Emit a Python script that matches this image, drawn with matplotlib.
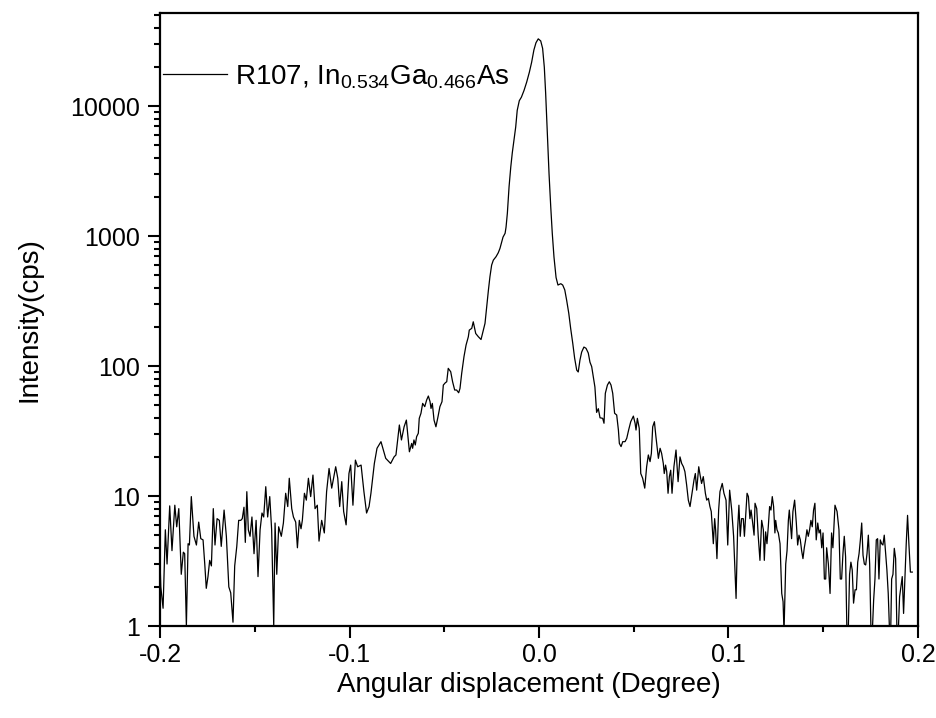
import numpy as np
import matplotlib
matplotlib.use("Agg")
import matplotlib.pyplot as plt
from matplotlib.ticker import FixedLocator, FixedFormatter, LogLocator, NullFormatter, MultipleLocator

plt.rcParams['font.family'] = ['Liberation Sans', 'DejaVu Sans']
plt.rcParams['mathtext.fontset'] = 'custom'
plt.rcParams['mathtext.rm'] = 'Liberation Sans'
plt.rcParams['mathtext.it'] = 'Liberation Sans:italic'

# Rocking curve of sample R107 (InGaAs): angle offset (degree) vs counts per second
angle = np.array([
    -0.2000, -0.1996, -0.1984, -0.1972, -0.1963, -0.1949, -0.1937, -0.1922, -0.1912, -0.1901,
    -0.1888, -0.1877, -0.1870, -0.1861, -0.1852, -0.1845, -0.1835, -0.1821, -0.1808, -0.1796,
    -0.1785, -0.1773, -0.1764, -0.1756, -0.1747, -0.1738, -0.1729, -0.1719, -0.1710, -0.1699,
    -0.1687, -0.1677, -0.1662, -0.1650, -0.1637, -0.1627, -0.1615, -0.1606, -0.1595, -0.1585,
    -0.1574, -0.1566, -0.1557, -0.1550, -0.1542, -0.1534, -0.1525, -0.1515, -0.1504, -0.1493,
    -0.1483, -0.1472, -0.1462, -0.1453, -0.1442, -0.1432, -0.1421, -0.1411, -0.1400, -0.1393,
    -0.1384, -0.1374, -0.1360, -0.1349, -0.1337, -0.1326,
    -0.1318, -0.1305, -0.1296, -0.1284, -0.1275, -0.1265, -0.1256, -0.1249, -0.1238, -0.1228,
    -0.1217, -0.1205, -0.1193, -0.1182, -0.1170, -0.1161, -0.1147, -0.1133, -0.1121, -0.1108,
    -0.1094, -0.1073, -0.1062, -0.1052, -0.1041, -0.1031, -0.1018, -0.1003, -0.0994, -0.0982,
    -0.0969, -0.0957, -0.0939, -0.0924, -0.0910, -0.0897, -0.0887, -0.0869, -0.0855, -0.0834,
    -0.0809, -0.0783, -0.0765, -0.0755, -0.0737, -0.0726, -0.0712, -0.0700, -0.0684, -0.0672,
    -0.0667, -0.0660, -0.0653, -0.0646, -0.0637, -0.0632, -0.0623, -0.0614, -0.0603, -0.0593,
    -0.0584, -0.0575, -0.0570, -0.0563, -0.0554, -0.0544, -0.0533, -0.0523, -0.0512, -0.0505,
    -0.0494, -0.0487, -0.0479, -0.0466, -0.0456, -0.0445, -0.0435, -0.0424, -0.0417, -0.0408,
    -0.0396, -0.0385, -0.0373, -0.0368, -0.0355, -0.0347, -0.0334, -0.0320, -0.0306, -0.0294,
    -0.0285, -0.0276, -0.0267, -0.0259, -0.0250, -0.0241, -0.0227, -0.0215, -0.0206,
    -0.0190, -0.0179, -0.0174, -0.0167, -0.0158, -0.0149, -0.0141, -0.0132, -0.0123, -0.0115,
    -0.0104, -0.0093, -0.0079, -0.0065, -0.0051, -0.0039, -0.0027, -0.0016, -0.0004, 0.0009,
    0.0019, 0.0028, 0.0035, 0.0044, 0.0053, 0.0062, 0.0070, 0.0079, 0.0090, 0.0100,
    0.0115, 0.0125, 0.0136, 0.0146, 0.0157, 0.0167, 0.0178, 0.0188, 0.0199, 0.0207,
    0.0216, 0.0225, 0.0237, 0.0248, 0.0260, 0.0269, 0.0278, 0.0295, 0.0304, 0.0313, 0.0322,
    0.0336, 0.0343, 0.0350, 0.0361, 0.0371, 0.0380, 0.0389, 0.0399, 0.0410, 0.0419,
    0.0424, 0.0433, 0.0442, 0.0454, 0.0463, 0.0473, 0.0484, 0.0498, 0.0507, 0.0512,
    0.0519, 0.0529, 0.0537, 0.0547, 0.0558, 0.0568, 0.0577, 0.0586, 0.0593, 0.0600,
    0.0609, 0.0617, 0.0630, 0.0639, 0.0647, 0.0656, 0.0661, 0.0668, 0.0674, 0.0681,
    0.0688, 0.0695, 0.0702, 0.0712, 0.0723, 0.0734, 0.0744, 0.0753, 0.0762, 0.0770,
    0.0779, 0.0788, 0.0797, 0.0806, 0.0818, 0.0825, 0.0832, 0.0843, 0.0850, 0.0858,
    0.0867, 0.0878, 0.0885, 0.0894, 0.0902, 0.0909, 0.0920, 0.0927, 0.0932, 0.0939,
    0.0948, 0.0955, 0.0967, 0.0976, 0.0987, 0.0996,
    0.1006, 0.1017, 0.1027, 0.1040, 0.1048, 0.1055, 0.1062, 0.1069, 0.1078, 0.1084,
    0.1091, 0.1098, 0.1105, 0.1113, 0.1119, 0.1126, 0.1135, 0.1140, 0.1149, 0.1157,
    0.1166, 0.1175, 0.1184, 0.1189, 0.1196, 0.1203, 0.1210, 0.1217, 0.1224, 0.1231,
    0.1238, 0.1245, 0.1249, 0.1256, 0.1263, 0.1272, 0.1281, 0.1288, 0.1293, 0.1302,
    0.1309, 0.1316, 0.1321, 0.1328, 0.1333, 0.1340, 0.1349, 0.1358, 0.1365, 0.1372,
    0.1379, 0.1386, 0.1393, 0.1400, 0.1407, 0.1414, 0.1421, 0.1428, 0.1435, 0.1442,
    0.1449, 0.1456, 0.1463, 0.1471, 0.1478, 0.1485, 0.1492, 0.1499, 0.1506, 0.1513,
    0.1518, 0.1527, 0.1536, 0.1544, 0.1551, 0.1562, 0.1573, 0.1583, 0.1590, 0.1597,
    0.1604, 0.1611, 0.1618, 0.1625, 0.1632, 0.1639, 0.1646, 0.1653, 0.1660, 0.1668,
    0.1675, 0.1682, 0.1689, 0.1696, 0.1703, 0.1710, 0.1717, 0.1724, 0.1731, 0.1738,
    0.1745, 0.1752, 0.1759, 0.1766, 0.1773, 0.1780, 0.1787, 0.1794, 0.1801, 0.1808,
    0.1815, 0.1822, 0.1829, 0.1836, 0.1843, 0.1850, 0.1856, 0.1861, 0.1868, 0.1875,
    0.1882, 0.1889, 0.1896, 0.1903, 0.1910, 0.1917, 0.1924, 0.1931, 0.1938, 0.1945,
    0.1952, 0.1960, 0.1970,
])

counts = np.array([
    3.1, 2.0, 1.37, 5.5, 3.0, 8.4, 3.8, 8.5, 5.8, 8.0,
    2.5, 3.7, 3.6, 1.0, 4.3, 4.2, 9.9, 4.9, 4.2, 6.3,
    4.7, 4.6, 3.0, 1.95, 2.4, 3.2, 2.9, 8.0, 4.2, 6.7,
    6.5, 4.1, 7.8, 4.9, 2.0, 1.8, 1.07, 2.9, 4.1, 6.5,
    6.5, 6.7, 8.2, 4.4, 10.8, 5.5, 4.9, 6.9, 3.6, 6.5,
    2.4, 5.5, 7.4, 6.9, 11.8, 6.9, 9.9, 5.5, 1.0, 6.2,
    2.5, 5.8, 4.9, 6.2, 10.5, 8.3,
    13.7, 8.0, 6.9, 6.3, 4.0, 6.5, 5.6, 6.5, 10.5, 9.3,
    13.7, 9.9, 14.5, 8.0, 8.5, 4.5, 6.5, 5.2, 10.8, 16.3,
    11.5, 16.8, 13.7, 8.3, 12.9, 7.6, 6.0, 14.9, 17.3, 8.5,
    18.9, 16.8, 17.3, 10.8, 7.4, 8.3, 10.5, 17.8, 23.3, 26.2,
    19.5, 17.8, 20.0, 20.7, 35.2, 27.0, 34.1, 38.4, 21.9, 25.4,
    23.3, 27.0, 24.7, 28.6, 30.4, 39.6, 43.3, 51.6, 48.7, 54.8,
    58.8, 53.2, 47.2, 51.6, 38.4, 34.1, 40.8, 48.7, 53.2, 71.4,
    74.5, 75.7, 96.0, 90.4, 75.7, 65.4, 65.4, 62.3, 67.3, 87.9,
    118, 145, 168, 189, 195, 219, 178, 168, 160, 189,
    213, 286, 384, 486, 598, 653, 693, 744, 804,
    981, 1050, 1170, 1500, 2400, 3400, 4370, 5490, 6900, 9270,
    11000, 11700, 13200, 15300, 18200, 21700, 27000, 30700, 32900, 31700,
    27800, 19900, 12600, 6200, 3000, 1670, 1050, 690, 480, 420,
    430, 420, 385, 320, 255, 195, 150, 115, 93, 90,
    111, 128, 140, 137, 126, 107, 99, 69, 44, 47, 40,
    39.6, 36.3, 61.7, 71.4, 75.7, 71.4, 61.7, 43.3, 42.0, 32.2,
    25.4, 24.0, 26.2, 26.2, 27.8, 32.2, 37.3, 41.2, 36.3, 32.2,
    39.6, 33.2, 14.9, 13.7, 11.5, 16.8, 20.7, 18.4, 21.3, 34.1,
    37.3, 28.6, 19.5, 23.3, 21.3, 17.8, 14.9, 17.3, 15.4, 10.5,
    14.1, 15.8, 10.5, 16.8, 22.6, 12.9, 20.0, 17.8, 16.8, 15.4,
    12.2, 9.3, 8.3, 10.2, 13.3, 14.9, 11.1, 16.8, 14.5, 12.5,
    14.1, 10.5, 9.3, 9.6, 8.3, 7.6, 4.3, 6.7, 5.5, 3.3,
    7.8, 10.8, 12.5, 10.5, 9.3, 4.2,
    11.1, 7.8, 4.9, 1.63, 5.5, 8.5, 4.9, 6.7, 6.7, 4.9,
    7.1, 10.5, 9.9, 6.7, 7.8, 6.5, 5.0, 8.8, 8.0, 4.9,
    3.2, 6.5, 5.5, 3.2, 5.3, 4.3, 5.8, 8.3, 7.8, 9.9,
    8.3, 5.2, 6.5, 5.5, 5.2, 4.3, 1.78, 1.54, 0.9, 3.0,
    3.8, 6.5, 7.8, 5.8, 4.7, 7.6, 9.3, 6.2, 4.2, 5.0,
    4.6, 3.8, 3.3, 4.0, 4.6, 5.5, 4.9, 5.5, 6.5, 5.8,
    7.8, 8.8, 4.6, 6.2, 5.2, 5.5, 4.0, 5.2, 2.3, 2.3,
    4.0, 3.0, 1.78, 5.2, 4.0, 8.5, 7.6, 5.5, 2.3, 2.3,
    3.6, 4.9, 3.4, 0.9, 0.9, 2.5, 3.1, 2.7, 1.5, 1.9,
    1.9, 3.1, 3.6, 4.6, 6.2, 3.5, 3.0, 2.95, 3.6, 5.0,
    3.0, 0.9, 0.9, 1.58, 2.3, 4.6, 4.7, 2.3, 4.6, 4.3,
    4.2, 5.0, 3.7, 2.7, 1.78, 0.9, 0.9, 2.3, 2.5, 3.96,
    3.3, 0.9, 0.9, 1.68, 2.0, 2.4, 1.25, 2.33, 4.3, 7.1,
    4.3, 2.6, 2.6,
])

x_ticks = [-0.2, -0.1, 0.0, 0.1, 0.2]
x_tick_labels = ['-0.2', '-0.1', '0.0', '0.1', '0.2']
y_ticks = [1, 10, 100, 1000, 10000]
y_tick_labels = ['1', '10', '100', '1000', '10000']
series_label = r'R107, In$_{\mathrm{0.534}}$Ga$_{\mathrm{0.466}}$As'

fig = plt.figure(figsize=(9.37, 7.18), dpi=100)
ax = fig.add_axes([0.1708, 0.1281, 0.8089, 0.8538])

ax.plot(angle, counts, color='black', lw=0.9, label=series_label)

ax.set_yscale('log')
ax.set_xlim(-0.2, 0.2)
ax.set_ylim(1, 52000)

ax.xaxis.set_major_locator(FixedLocator(x_ticks))
ax.xaxis.set_major_formatter(FixedFormatter(x_tick_labels))
ax.xaxis.set_minor_locator(MultipleLocator(0.05))
ax.yaxis.set_major_locator(FixedLocator(y_ticks))
ax.yaxis.set_major_formatter(FixedFormatter(y_tick_labels))
ax.yaxis.set_minor_locator(LogLocator(base=10, subs=np.arange(2, 10), numticks=20))
ax.yaxis.set_minor_formatter(NullFormatter())

for s in ax.spines.values():
    s.set_linewidth(1.6)
ax.tick_params(which='both', direction='out', top=False, right=False, width=1.5)
ax.tick_params(which='major', length=8.5, labelsize=18)
ax.tick_params(axis='y', which='major', pad=6)
ax.tick_params(axis='x', which='major', pad=4)
ax.tick_params(which='minor', length=4.5)

ax.set_xlabel('Angular displacement (Degree)', fontsize=20, labelpad=3, x=0.486)
ax.set_ylabel('Intensity(cps)', fontsize=20, labelpad=20)

ax.legend(loc='center left', bbox_to_anchor=(0.0, 0.896), frameon=False,
          fontsize=20, handlelength=2.3, handletextpad=0.3,
          borderaxespad=0.0, borderpad=0.1)

fig.savefig('out.png', dpi=100)
